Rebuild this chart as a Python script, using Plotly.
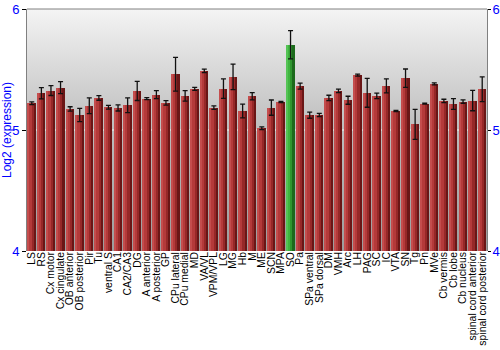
import plotly.graph_objects as go

regions = ["LS", "RS", "Cx motor", "Cx cingulate", "OB anterior", "OB posterior", "Pir", "Tu",
           "ventral S", "CA1", "CA2/CA3", "DG", "A anterior", "A posterior", "GP", "CPu lateral",
           "CPu medial", "MD", "VA/VL", "VPM/VPL", "LG", "MG", "Hb", "M", "ME", "SCN", "MPA", "SO",
           "Pa", "SPa ventral", "SPa dorsal", "DM", "VMH", "Arc", "LH", "PAG", "SC", "IC", "VTA",
           "SN", "Tg", "Pn", "MVe", "Cb vermis", "Cb lobe", "Cb nucleus", "spinal cord anterior",
           "spinal cord posterior"]
values = [5.221, 5.304, 5.326, 5.350, 5.174, 5.124, 5.201, 5.265,
          5.188, 5.182, 5.204, 5.323, 5.259, 5.292, 5.224, 5.461,
          5.282, 5.340, 5.489, 5.185, 5.342, 5.439, 5.157, 5.279, 5.014, 5.185, 5.232, 5.704,
          5.362, 5.122, 5.124, 5.265, 5.323, 5.246, 5.453, 5.307, 5.282, 5.365, 5.157,
          5.428, 5.047, 5.218, 5.381, 5.240, 5.215, 5.235, 5.243, 5.337]
errors = [0.012, 0.047, 0.041, 0.050, 0.018, 0.055, 0.065, 0.019,
          0.015, 0.025, 0.061, 0.079, 0.008, 0.033, 0.019, 0.140,
          0.044, 0.012, 0.014, 0.014, 0.080, 0.106, 0.057, 0.030, 0.011, 0.063, 0.005, 0.117,
          0.025, 0.025, 0.014, 0.022, 0.014, 0.033, 0.008, 0.119, 0.023, 0.058, 0.005,
          0.076, 0.124, 0.004, 0.008, 0.014, 0.044, 0.014, 0.084, 0.102]
highlight = "SO"
ticks_y = [4, 5, 6]

BLUE = "#0000ff"
FONT = "Liberation Sans, Arial, sans-serif"

# gradient layers (dark full bar -> lighter narrower bars on left side)
red_layers = ["#6a1616", "#962828", "#b43a3a", "#c44d4d"]
green_layers = ["#1c6a1c", "#2e962e", "#40b440", "#55c455"]
widths = [0.84, 0.62, 0.40, 0.16]

fig = go.Figure()

# background gradient on base axes
fig.add_trace(go.Scatter(
    x=[0, 1, 1, 0, 0], y=[4, 4, 6, 6, 4], mode="lines", fill="toself",
    line=dict(width=0), hoverinfo="skip", showlegend=False,
    fillgradient=dict(type="vertical", start=4, stop=6,
                      colorscale=[[0, "#9c9c9c"], [0.5, "#bdbdbd"], [1, "#f4f4f4"]]),
    xaxis="x", yaxis="y"))
fig.add_trace(go.Scatter(x=[0, 1], y=[5, 5], mode="lines", line=dict(color="#f4f4f4", width=1),
                         hoverinfo="skip", showlegend=False, xaxis="x", yaxis="y"))

for k, w in enumerate(widths):
    cols = [green_layers[k] if r == highlight else red_layers[k] for r in regions]
    fig.add_trace(go.Bar(
        x=regions, y=[v - 4 for v in values], base=4, width=w, offset=-0.42,
        marker=dict(color=cols, line=dict(width=0)), showlegend=False,
        xaxis="x2", yaxis="y"))

fig.add_trace(go.Scatter(
    x=regions, y=values, mode="markers", marker=dict(size=1, color="rgba(0,0,0,0)"),
    error_y=dict(type="data", array=errors, color="#111111", thickness=1.3, width=2.5),
    showlegend=False, xaxis="x2", yaxis="y"))

fig.update_layout(
    width=500, height=350,
    margin=dict(l=27, r=13, t=9, b=99),
    paper_bgcolor="white", plot_bgcolor="white",
    font=dict(family=FONT),
    bargap=0, barmode="overlay",
    xaxis=dict(range=[0, 1], visible=False, fixedrange=True),
    xaxis2=dict(overlaying="x", side="bottom", type="category", tickangle=-90,
                tickmode="array", tickvals=regions, ticktext=regions, automargin=False,
                tickfont=dict(size=10.4, color="black", family=FONT),
                ticklabelstandoff=-2,
                showgrid=False, showline=False, ticks="", range=[-0.5, len(regions) - 0.5]),
    yaxis=dict(range=[4, 6], tickvals=ticks_y, showgrid=False, zeroline=False, automargin=False,
               ticks="outside", ticklen=4, tickcolor="black",
               tickfont=dict(size=13, color=BLUE, family=FONT),
               showline=True, linecolor="#808080", linewidth=1,
               title=dict(text="Log2 (expression)", font=dict(size=12, color=BLUE, family=FONT),
                          standoff=2)),
    yaxis3=dict(range=[4, 6], tickvals=ticks_y, overlaying="y", side="right", automargin=False,
                showgrid=False, zeroline=False, ticks="outside", ticklen=3, tickcolor="black",
                tickfont=dict(size=13, color=BLUE, family=FONT), ticklabelstandoff=-1,
                showline=True, linecolor="#808080", linewidth=1),
    shapes=[dict(type="line", xref="paper", yref="paper", x0=0, x1=1, y0=1, y1=1,
                 line=dict(color="#808080", width=1))],
)
# dummy trace to show right axis
fig.add_trace(go.Scatter(x=[None], y=[None], xaxis="x2", yaxis="y3", showlegend=False))

fig.write_html("out.html")
